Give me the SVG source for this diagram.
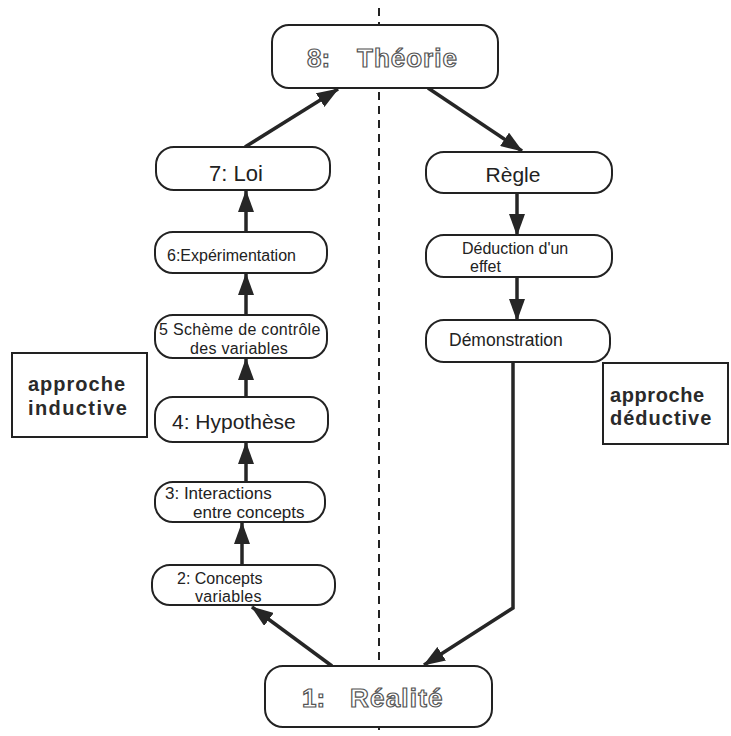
<svg xmlns="http://www.w3.org/2000/svg" width="731" height="736" viewBox="0 0 731 736">
  <style>
    .box { fill: #ffffff; stroke: #222222; stroke-width: 2; }
    .frame { fill: none; stroke: #222222; stroke-width: 2; }
    .txt { font-family: "Liberation Sans", Arial, sans-serif; fill: #222222; }
    .hollow { font-family: "Liberation Sans", Arial, sans-serif; font-weight: bold; fill: #ffffff; stroke: #555555; stroke-width: 1.2; }
    .bold { font-family: "Liberation Sans", Arial, sans-serif; font-weight: bold; fill: #2a2a2a; }
    .link { fill: none; stroke: #262626; stroke-width: 3.5; marker-end: url(#head); }
    .axis { stroke: #222222; stroke-width: 2; stroke-dasharray: 8 6; }
  </style>
  <defs>
    <marker id="head" viewBox="0 0 22 16" refX="21" refY="8" markerWidth="22" markerHeight="16" orient="auto" markerUnits="userSpaceOnUse">
      <path d="M0,0 L22,8 L0,16 z" fill="#262626"/>
    </marker>
  </defs>
  <rect width="731" height="736" fill="#ffffff"/>

  <!-- dashed middle axis -->
  <line class="axis" x1="379" y1="8" x2="379" y2="736"/>

  <!-- connectors -->
  <g id="connectors">
    <path class="link" d="M245,147 L338,89"/>
    <path class="link" d="M246,232 L246,191"/>
    <path class="link" d="M246,315 L246,274"/>
    <path class="link" d="M246,397 L246,359"/>
    <path class="link" d="M246,482 L246,443"/>
    <path class="link" d="M242,565 L242,523"/>
    <path class="link" d="M332,666 L252,607"/>
    <path class="link" d="M428,88 L522,151"/>
    <path class="link" d="M517,193 L517,235"/>
    <path class="link" d="M517,277 L517,320"/>
    <path class="link" d="M513,362 L513,608 L424,665"/>
  </g>

  <g id="theorie">
    <rect class="box" x="272" y="25" width="226" height="63" rx="17"/>
    <text class="hollow" x="307" y="67" font-size="26">8:</text>
    <text class="hollow" x="357" y="67" font-size="26" letter-spacing="1">Théorie</text>
  </g>

  <g id="loi">
    <rect class="box" x="156" y="147" width="174" height="43" rx="18"/>
    <text class="txt" x="236" y="181" font-size="22" text-anchor="middle">7: Loi</text>
  </g>

  <g id="experimentation">
    <rect class="box" x="155" y="232" width="172" height="41" rx="18"/>
    <text class="txt" x="167" y="261" font-size="16">6:Expérimentation</text>
  </g>

  <g id="scheme">
    <rect class="box" x="155" y="315" width="172" height="43" rx="18"/>
    <text class="txt" x="159" y="335" font-size="16" letter-spacing="0.3">5 Schème de contrôle</text>
    <text class="txt" x="190" y="354" font-size="16" letter-spacing="0.3">des variables</text>
  </g>

  <g id="hypothese">
    <rect class="box" x="155" y="397" width="173" height="45" rx="18"/>
    <text class="txt" x="172" y="429" font-size="21">4: Hypothèse</text>
  </g>

  <g id="interactions">
    <rect class="box" x="155" y="482" width="170" height="40" rx="18"/>
    <text class="txt" x="165" y="499" font-size="17">3: Interactions</text>
    <text class="txt" x="193" y="518" font-size="17">entre concepts</text>
  </g>

  <g id="concepts">
    <rect class="box" x="152" y="565" width="183" height="40" rx="18"/>
    <text class="txt" x="177" y="584" font-size="16">2: Concepts</text>
    <text class="txt" x="195" y="602" font-size="16" letter-spacing="0.3">variables</text>
  </g>

  <g id="realite">
    <rect class="box" x="265" y="666" width="227" height="61" rx="18"/>
    <text class="hollow" x="302" y="707" font-size="26">1:</text>
    <text class="hollow" x="350" y="707" font-size="26" letter-spacing="1.2">Réalité</text>
  </g>

  <g id="regle">
    <rect class="box" x="426" y="152" width="186" height="41" rx="18"/>
    <text class="txt" x="513" y="182" font-size="21" text-anchor="middle">Règle</text>
  </g>

  <g id="deduction">
    <rect class="box" x="426" y="235" width="186" height="42" rx="18"/>
    <text class="txt" x="462" y="254" font-size="16">Déduction d'un</text>
    <text class="txt" x="470" y="272" font-size="16">effet</text>
  </g>

  <g id="demonstration">
    <rect class="box" x="426" y="320" width="184" height="42" rx="18"/>
    <text class="txt" x="449" y="346" font-size="17.5">Démonstration</text>
  </g>

  <g id="inductive">
    <rect class="frame" x="12" y="353" width="135" height="84"/>
    <text class="bold" x="28" y="391" font-size="20" letter-spacing="1">approche</text>
    <text class="bold" x="28" y="415" font-size="20" letter-spacing="1.4">inductive</text>
  </g>

  <g id="deductive">
    <rect class="frame" x="603" y="363" width="125" height="81"/>
    <text class="bold" x="610" y="402" font-size="20" letter-spacing="0.6">approche</text>
    <text class="bold" x="610" y="425" font-size="20" letter-spacing="1">déductive</text>
  </g>
</svg>
